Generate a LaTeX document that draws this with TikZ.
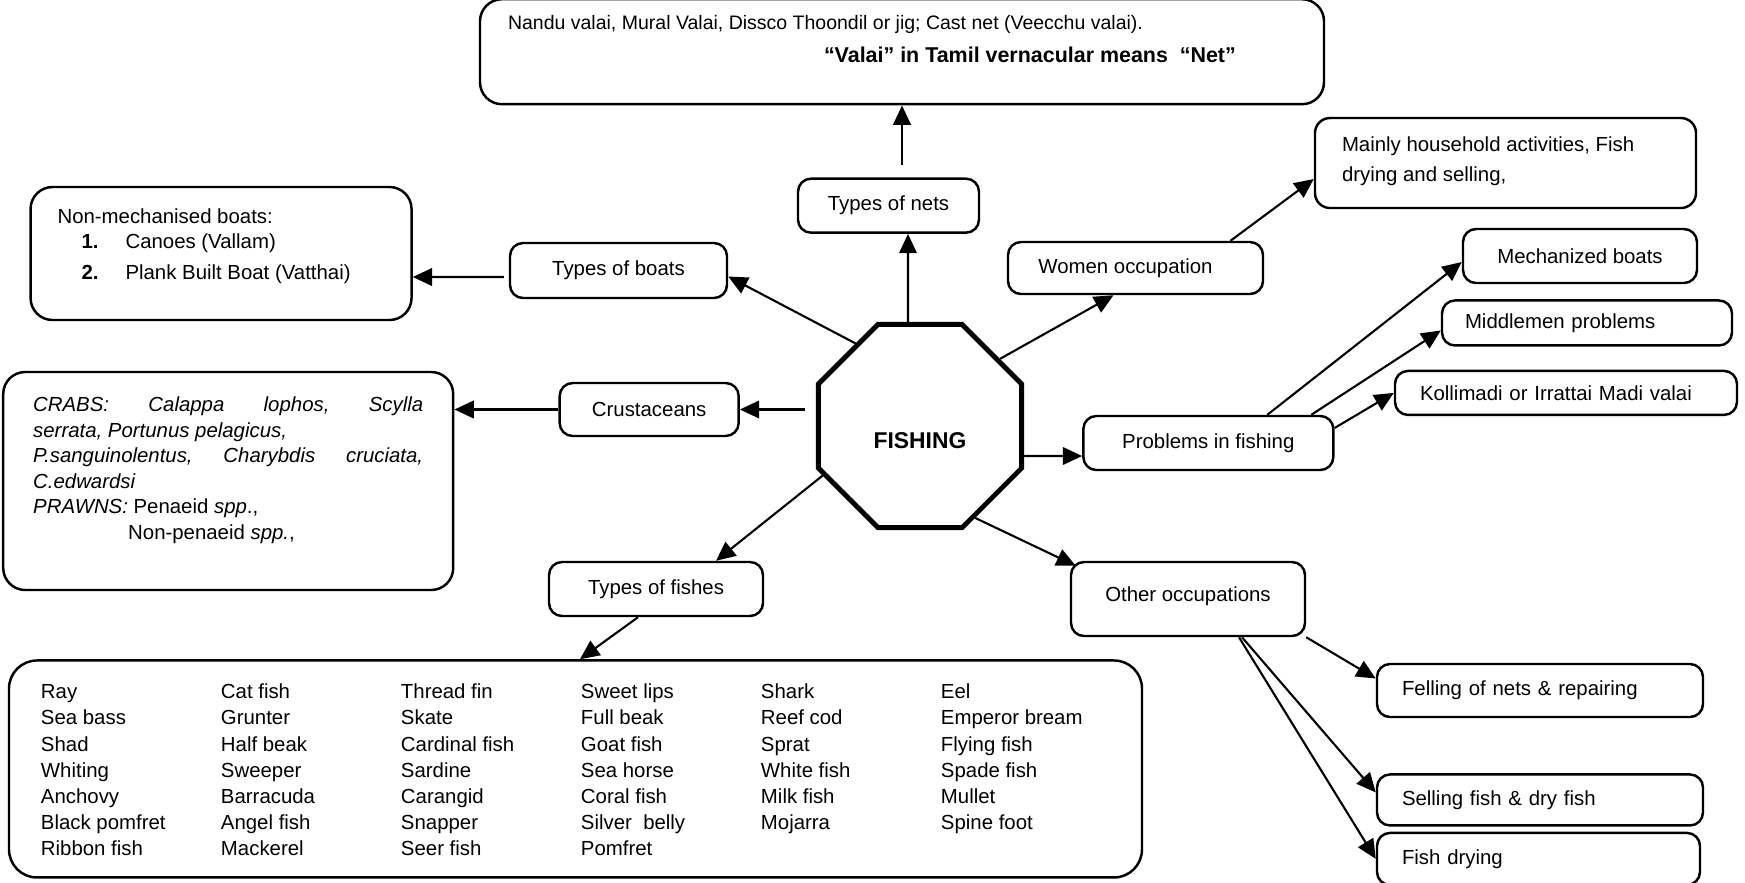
\documentclass[tikz,border=0pt]{standalone}
\usepackage{fontspec}
\setmainfont{Liberation Sans}
\usepackage{tikz}
\usetikzlibrary{arrows.meta,positioning,shapes.geometric}

\begin{document}
\begin{tikzpicture}[
	font=\fontsize{5.8}{7}\selectfont,
	>={Triangle[length=5.5pt,width=5pt]},
	hub/.style={
		regular polygon, regular polygon sides=8,
		minimum size=2.2cm, draw, line width=1.4pt, inner sep=0pt,
		text height=12.7pt, text depth=0pt,
		font=\fontsize{6.5}{7}\selectfont\bfseries
	},
	item/.style={
		rectangle, rounded corners=1.3mm,
		draw, line width=0.7pt, align=center, inner sep=1pt
	},
	itemleft/.style={item, align=left, inner xsep=2.5mm},
	bigbox/.style={
		rectangle, rounded corners=2.2mm,
		draw, line width=0.7pt, inner sep=0pt
	},
	arr/.style={->, line width=0.6pt}
	]
	
	\path[use as bounding box, fill=white] (0,0) rectangle (17.45,-8.82);
	
	%% --- centre ---
	\node[hub] (fishing) at (9.20,-4.26) {FISHING};
	
	%% --- nets ---
	\node[item, minimum width=1.81cm, minimum height=0.54cm, above=0.88cm of fishing, xshift=-3.15mm] (nets) {Types of nets};
	\node[bigbox, inner xsep=2.8mm, inner ysep=1.6mm, above=0.72cm of nets, xshift=1.35mm] (netdet)
	{\parbox[c][0.73cm][t]{7.88cm}{\fontsize{5.55}{9.4}\selectfont
			Nandu valai, Mural Valai, Dissco Thoondil or jig; Cast net (Veecchu valai).\\
			\hspace*{3.16cm}{\fontsize{6.1}{9.4}\selectfont\bfseries “Valai” in Tamil vernacular means\ \ “Net”}}};
	\draw[arr] ([xshift=-1.2mm]fishing.north) -- ([xshift=1.95mm]nets.south);
	\draw[arr] ([xshift=1.35mm,yshift=1.2mm]nets.north) -- (netdet.south);
	
	%% --- boats ---
	\node[item, minimum width=2.17cm, minimum height=0.55cm] (boats) at (6.185,-2.705) {Types of boats};
	\node[bigbox, inner xsep=2.7mm, inner ysep=2.2mm, left=0.96cm of boats, yshift=1.7mm] (boatdet)
	{\parbox[c][0.89cm][t]{3.27cm}{\fontsize{5.8}{7.1}\selectfont
			Non-mechanised boats:\\
			\hspace*{2.4mm}\makebox[4.4mm][l]{\textbf{1.}}Canoes (Vallam)\\[1.7pt]
			\hspace*{2.4mm}\makebox[4.4mm][l]{\textbf{2.}}Plank Built Boat (Vatthai)}};
	\draw[arr] (fishing.128) -- ([yshift=-0.6mm]boats.east);
	\draw[arr] ([shift={(-0.5mm,-0.65mm)}]boats.west) -- ([yshift=-2.35mm]boatdet.east);
	
	%% --- crustaceans ---
	\node[item, minimum width=1.79cm, minimum height=0.53cm, left=0.76cm of fishing, yshift=1.65mm] (crust) {Crustaceans};
	\node[bigbox, inner xsep=3mm, inner ysep=2.5mm, left=1.04cm of crust, yshift=-7.15mm] (crabs)
	{\parbox[c][1.68cm][t]{3.9cm}{\fontsize{5.8}{7.25}\selectfont
			\makebox[\linewidth][s]{\itshape CRABS:\hfill Calappa\hfill lophos,\hfill Scylla}\\
			\textit{serrata, Portunus pelagicus,}\\
			\makebox[\linewidth][s]{\itshape P.sanguinolentus,\hfill Charybdis\hfill cruciata,}\\
			\textit{C.edwardsi}\\
			\textit{PRAWNS:} Penaeid \textit{spp}.,\\
			\hspace*{0.95cm}Non-penaeid \textit{spp.},}};
	\draw[arr] ([xshift=-1.1mm,yshift=1.65mm]fishing.west) -- (crust.east);
	\draw[arr] (crust.west) -- ([yshift=7.15mm]crabs.east);
	
	%% --- fishes ---
	\node[item, minimum width=2.14cm, minimum height=0.54cm] (fishes) at (6.56,-5.89) {Types of fishes};
	\node[bigbox, rounded corners=2.8mm, inner xsep=3.2mm, inner ysep=2mm, below=0.42cm of fishes, xshift=-8.05mm] (fishlist)
	{\parbox[c][1.77cm][t]{10.69cm}{\fontsize{5.8}{7.45}\selectfont
			\begin{tabular}{@{}*{5}{p{1.8cm}@{}}l@{}}
				Ray & Cat fish & Thread fin & Sweet lips & Shark & Eel\\
				Sea bass & Grunter & Skate & Full beak & Reef cod & Emperor bream\\
				Shad & Half beak & Cardinal fish & Goat fish & Sprat & Flying fish\\
				Whiting & Sweeper & Sardine & Sea horse & White fish & Spade fish\\
				Anchovy & Barracuda & Carangid & Coral fish & Milk fish & Mullet\\
				Black pomfret & Angel fish & Snapper & Silver\ \ belly & Mojarra & Spine foot\\
				Ribbon fish & Mackerel & Seer fish & Pomfret & & \\
	\end{tabular}}};
	\draw[arr] (fishing.207) -- ([xshift=6mm]fishes.north);
	\draw[arr] ([xshift=-1.8mm]fishes.south) -- ([xshift=0.45mm]fishlist.north);
	
	%% --- women ---
	\node[item, minimum width=2.55cm, minimum height=0.52cm] (women) at (11.355,-2.68) {Women occupation\hspace*{2mm}};
	\node[bigbox, rounded corners=1.5mm, inner xsep=2.7mm, inner ysep=1.9mm] (mainly) at (15.055,-1.63)
	{\parbox[c][0.52cm][t]{3.27cm}{\fontsize{5.8}{8.5}\selectfont
			Mainly household activities, Fish\\
			drying and selling,}};
	\draw[arr] (fishing.40) -- ([xshift=-2.2mm]women.south);
	\draw[arr] ([xshift=9.5mm]women.north) -- ([yshift=-1.6mm]mainly.west);
	
	%% --- problems ---
	\node[item, minimum width=2.5cm, minimum height=0.54cm, right=0.58cm of fishing, yshift=-1.7mm] (problems) {Problems in fishing};
	\node[item, minimum width=2.34cm, minimum height=0.54cm] (mech) at (15.80,-2.56) {Mechanized boats};
	\node[itemleft, text width=2.44cm, inner xsep=2.3mm, minimum height=0.45cm, below=0.15cm of mech, xshift=0.7mm] (middle) {Middlemen problems};
	\node[itemleft, text width=2.92cm, minimum height=0.44cm, below=0.23cm of middle, xshift=-2.1mm] (kolli) {Kollimadi or Irrattai Madi valai};
	\draw[arr] ([yshift=-3mm]fishing.east) -- ([yshift=-1.3mm]problems.west);
	\draw[arr] ([xshift=5.9mm]problems.north) -- ([yshift=-0.6mm]mech.west);
	\draw[arr] ([xshift=10.3mm]problems.north) -- ([yshift=-0.75mm]middle.west);
	\draw[arr] ([yshift=1.5mm]problems.east) -- (kolli.west);
	
	%% --- other occupations ---
	\node[item, minimum width=2.34cm, minimum height=0.74cm] (other) at (11.88,-5.99) {Other occupations\\[-4.2pt]};
	\node[itemleft, text width=2.76cm, minimum height=0.53cm] (felling) at (15.40,-6.905) {Felling of nets \& repairing};
	\node[itemleft, text width=2.76cm, minimum height=0.51cm, below=0.55cm of felling] (selling) {Selling fish \& dry fish};
	\node[itemleft, text width=2.73cm, minimum height=0.52cm, below=0.05cm of selling, xshift=-0.15mm] (drying) {Fish drying};
	\draw[arr] (fishing.301) -- ([shift={(0.6mm,-0.5mm)}]other.north west);
	\draw[arr] (other.south east) -- ([yshift=1.2mm]felling.west);
	\draw[arr] ([xshift=5.4mm]other.south) -- ([yshift=0.75mm]selling.west);
	\draw[arr] ([xshift=5.1mm]other.south) -- (drying.west);
	
\end{tikzpicture}
\end{document}
